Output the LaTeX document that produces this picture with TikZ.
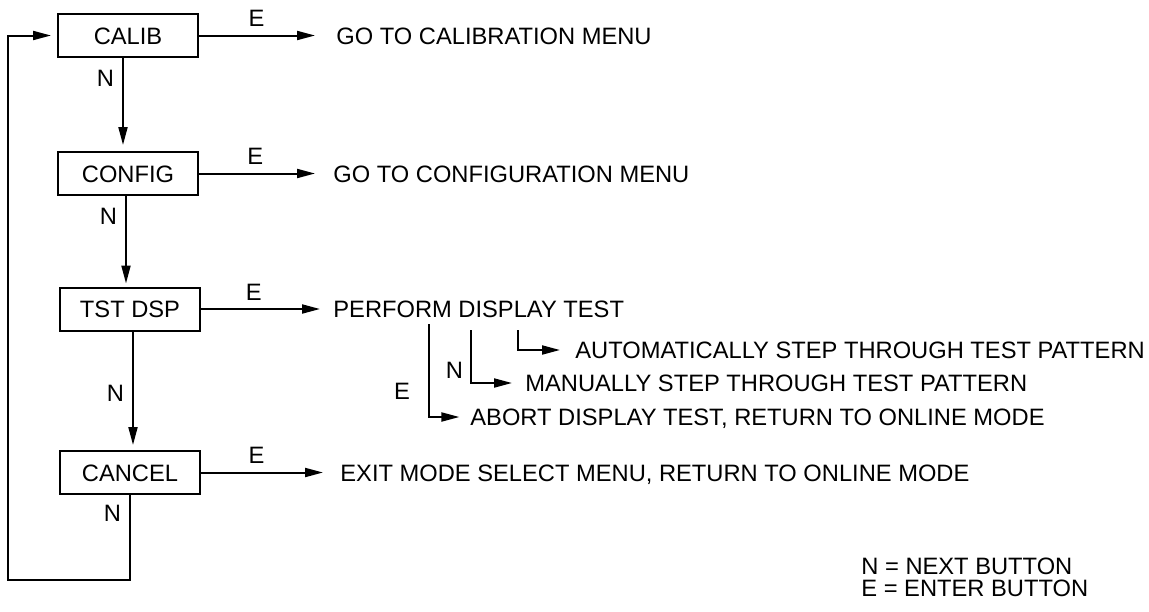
\documentclass[tikz,border=0pt]{standalone}
\usepackage{fontspec}
\setmainfont{Liberation Sans}
\usetikzlibrary{arrows.meta}
\usetikzlibrary{positioning}

\tikzset{
  every node/.style={font=\fontsize{11.85}{14}\selectfont, text height=8.5pt, text depth=0pt},
  menubox/.style={draw, line width=1pt, minimum width=70pt, minimum height=21.5pt, inner sep=0pt},
  txt/.style={anchor=west, inner sep=0pt},
  lbl/.style={inner sep=4pt},
  flow/.style={line width=1pt, -{Triangle[length=9pt,width=4.5pt]}},
}

\begin{document}
\begin{tikzpicture}[x=0.5pt,y=-0.5pt]
\useasboundingbox (0,0) rectangle (1149,611);

% mode select boxes
\node[menubox] (calib) at (128,35.5) {CALIB};
\node[menubox] (config) at (128,173.5) {CONFIG};
\node[menubox] (tstdsp) at (130,309) {TST DSP};
\node[menubox] (cancel) at (130,472.5) {CANCEL};

% what ENTER does
\node[txt] (gocal) at (336,35.5) {GO TO CALIBRATION MENU};
\node[txt] (goconf) at (333,173.5) {GO TO CONFIGURATION MENU};
\node[txt] (perform) at (333,309) {PERFORM DISPLAY TEST};
\node[txt] (exitsel) at (340,472.5) {EXIT MODE SELECT MENU, RETURN TO ONLINE MODE};
\node[txt] (autostep) at (575,350) {AUTOMATICALLY STEP THROUGH TEST PATTERN};
\node[txt] (manstep) at (525,383) {MANUALLY STEP THROUGH TEST PATTERN};
\node[txt] (abort) at (470,417) {ABORT DISPLAY TEST, RETURN TO ONLINE MODE};

% legend
\node[txt] (legn) at (861,566) {N = NEXT BUTTON};
\node[txt, below right=2pt and 0pt of legn.south west] (lege) {E = ENTER BUTTON};

% E arrows
\draw[flow, shorten >=10.5pt] (calib) -- (gocal) node[lbl, pos=0.42, above] {E};
\draw[flow, shorten >=9pt] (config) -- (goconf) node[lbl, pos=0.42, above] {E};
\draw[flow, shorten >=6.5pt] (tstdsp) -- (perform) node[lbl, pos=0.4, above] {E};
\draw[flow, shorten >=8.5pt] (cancel) -- (exitsel) node[lbl, pos=0.4, above] {E};

% N arrows
\coordinate (n1) at ([xshift=-2.5pt]calib.south);
\coordinate (n2) at ([xshift=-1pt]config.south);
\coordinate (n3) at ([xshift=1.5pt]tstdsp.south);
\draw[flow, shorten >=3pt] (n1) -- (n1 |- config.north) node[lbl, left, pos=0.21] {N};
\draw[flow, shorten >=1.5pt] (n2) -- (n2 |- tstdsp.north) node[lbl, left, pos=0.22] {N};
\draw[flow, shorten >=2.5pt] (n3) -- (n3 |- cancel.north) node[lbl, left, pos=0.52] {N};

% back to the top
\coordinate (loopbl) at (8,580);
\draw[flow, shorten >=3pt] (cancel.south) |- (loopbl) node[lbl, left, pos=0.105] {N} |- (calib.west);

% display test branches
\coordinate (ebr) at (429,324);
\coordinate (nbr) at (471,330);
\coordinate (abr) at (518,330);
\draw[flow, shorten >=5.3pt] (ebr) |- (abort.west) node[lbl, left=5pt, pos=0.36] {E};
\draw[flow, shorten >=6.5pt] (nbr) |- (manstep.west) node[lbl, inner sep=3.5pt, left, pos=0.38] {N};
\draw[flow, shorten >=7.5pt] (abr) |- (autostep.west);
\end{tikzpicture}
\end{document}
